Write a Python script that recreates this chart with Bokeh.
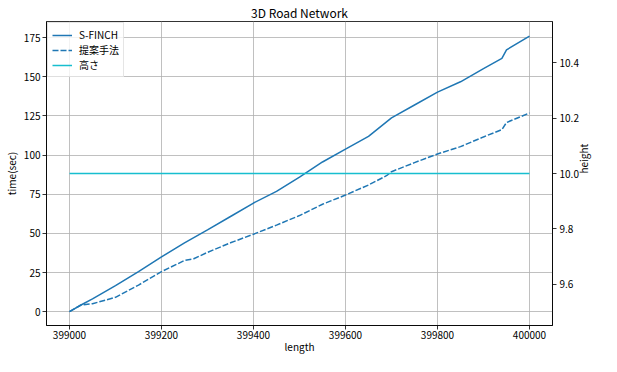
import math
from bokeh.plotting import figure
from bokeh.models import (Range1d, LinearAxis, FixedTicker, PrintfTickFormatter,
                          Legend, LegendItem)
from bokeh.embed import file_html
from bokeh.resources import INLINE

# data
sfinch_len = [399000, 399025, 399050, 399100, 399150, 399200, 399250, 399300, 399350,
              399400, 399450, 399500, 399550, 399600, 399650, 399700, 399750, 399800,
              399850, 399900, 399940, 399950, 400000]
sfinch_time = [0.0, 4.3, 8.2, 16.6, 25.6, 35.0, 44.0, 52.2, 60.8,
               69.4, 76.8, 86.0, 95.6, 103.8, 112.0, 123.8, 132.0, 140.2,
               146.8, 155.2, 161.7, 167.2, 176.0]

prop_len = [399000, 399025, 399050, 399100, 399150, 399200, 399250, 399270, 399300, 399350,
            399400, 399450, 399500, 399550, 399600, 399650, 399690, 399700, 399750,
            399800, 399850, 399900, 399940, 399950, 400000]
prop_time = [0.0, 4.3, 5.1, 9.2, 17.0, 25.6, 32.7, 33.8, 37.9, 44.0,
             49.5, 55.3, 61.4, 68.6, 74.5, 80.9, 87.0, 89.4, 95.2,
             100.7, 105.4, 111.6, 116.3, 120.8, 126.9]

height_len = [399000, 400000]
height_val = [10.0, 10.0]

x_ticks = [399000, 399200, 399400, 399600, 399800, 400000]
y_ticks = [0, 25, 50, 75, 100, 125, 150, 175]
h_ticks = [9.6, 9.8, 10.0, 10.2, 10.4]

X0, X1 = 398950, 400050
Y0, Y1 = -8.8, 185.3
H0, H1 = 9.45, 10.55

FONT = "Noto Sans CJK JP"
BLUE = "#1f77b4"
CYAN = "#17becf"

p = figure(width=601, height=356, output_backend="svg", toolbar_location=None,
           x_range=Range1d(X0, X1), y_range=Range1d(Y0, Y1),
           min_border_left=44, min_border_right=43, min_border_top=15, min_border_bottom=28,
           title="3D Road Network")
p.extra_y_ranges = {"h": Range1d(H0, H1)}

p.title.text_font = FONT
p.title.text_font_size = "12px"
p.title.text_font_style = "normal"
p.title.align = "center"
p.title.text_color = "#000000"
p.title.standoff = 2

p.outline_line_color = "black"
p.outline_line_width = 0.8
p.outline_line_alpha = 1.0
p.background_fill_color = "white"
p.border_fill_color = "white"

right = LinearAxis(y_range_name="h")
p.add_layout(right, "right")

p.xaxis.axis_label = "length"
p.yaxis[0].axis_label = "time(sec)"
p.xaxis.ticker = FixedTicker(ticks=x_ticks)
p.xaxis.formatter = PrintfTickFormatter(format="%d")
p.yaxis[0].ticker = FixedTicker(ticks=y_ticks)
p.yaxis[0].formatter = PrintfTickFormatter(format="%d")
right.ticker = FixedTicker(ticks=h_ticks)
right.formatter = PrintfTickFormatter(format="%.1f")

for ax in p.axis:
    ax.axis_label_text_font = FONT
    ax.axis_label_text_font_size = "10px"
    ax.axis_label_text_font_style = "normal"
    ax.axis_label_text_color = "#000000"
    ax.major_label_text_font = FONT
    ax.major_label_text_font_size = "10px"
    ax.major_label_text_color = "#000000"
    ax.major_tick_out = 4
    ax.major_tick_in = 0
    ax.minor_tick_out = 0
    ax.minor_tick_in = 0
    ax.axis_line_color = "black"
    ax.axis_line_width = 0.8
    ax.major_tick_line_width = 0.8

p.xaxis.major_label_standoff = 1
p.xaxis.axis_label_standoff = -3
p.yaxis[0].major_label_standoff = 2
p.yaxis[0].axis_label_standoff = 2
right.major_label_standoff = 3

# right-side axis title "height" (reads bottom-to-top, centred on the height axis)
hlabel = LinearAxis(y_range_name="h", ticker=FixedTicker(ticks=[(H0 + H1) / 2]),
                    major_label_overrides={(H0 + H1) / 2: "height"},
                    major_label_orientation=math.pi / 2,
                    major_tick_out=0, major_tick_in=0, minor_tick_out=0, minor_tick_in=0,
                    axis_line_color=None, major_label_standoff=2,
                    major_label_text_font=FONT, major_label_text_font_size="10px",
                    major_label_text_color="#000000")
p.add_layout(hlabel, "right")

p.xgrid.grid_line_color = "#b0b0b0"
p.ygrid.grid_line_color = "#b0b0b0"
p.xgrid.grid_line_width = 0.8
p.ygrid.grid_line_width = 0.8
p.xgrid.ticker = FixedTicker(ticks=x_ticks)
p.ygrid.ticker = FixedTicker(ticks=y_ticks)

r1 = p.line(sfinch_len, sfinch_time, line_color=BLUE, line_width=1.5)
r2 = p.line(prop_len, prop_time, line_color=BLUE, line_width=1.5, line_dash="6 2")
r3 = p.line(height_len, height_val, line_color=CYAN, line_width=1.5, y_range_name="h")

legend = Legend(items=[LegendItem(label="S-FINCH", renderers=[r1]),
                       LegendItem(label="提案手法", renderers=[r2]),
                       LegendItem(label="高さ", renderers=[r3])],
                location="top_left")
legend.label_text_font = FONT
legend.label_text_font_size = "10px"
legend.label_text_color = "#000000"
legend.label_text_line_height = 1.0
legend.glyph_width = 20
legend.glyph_height = 12
legend.label_height = 12
legend.spacing = 0
legend.padding = 4
legend.margin = 1
legend.label_standoff = 7
legend.border_line_color = "#cccccc"
legend.border_line_width = 1
legend.background_fill_alpha = 0.8
p.add_layout(legend)

open("out.html", "w").write(file_html(p, INLINE))
